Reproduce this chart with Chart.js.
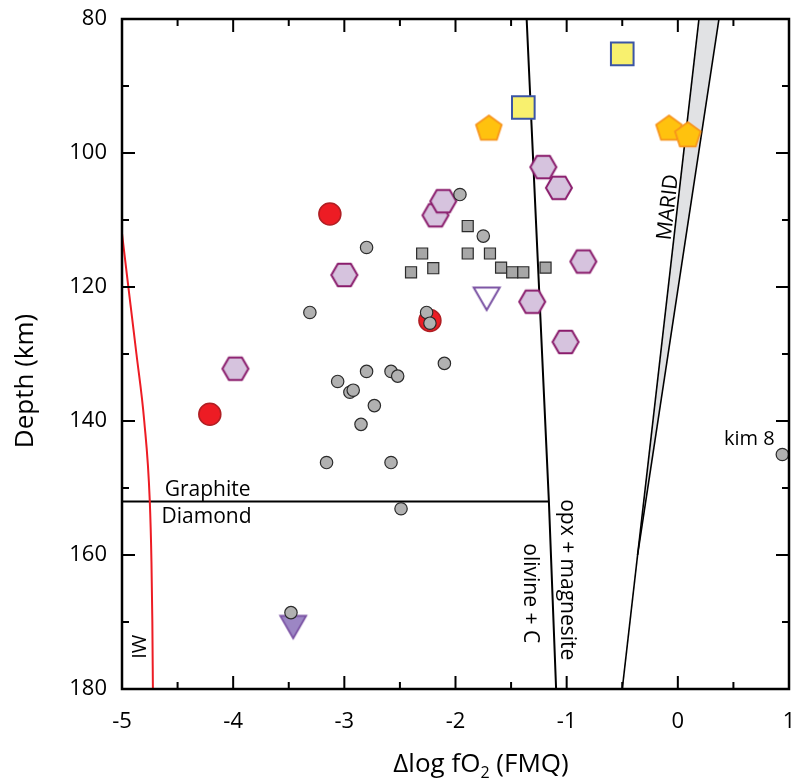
<!DOCTYPE html>
<html>
<head>
<meta charset="utf-8">
<script src="https://cdn.jsdelivr.net/npm/chart.js@4/dist/chart.umd.min.js"></script>
<style>
  html, body { margin: 0; padding: 0; background: #fff; }
  #wrap { width: 794px; height: 782px; }
</style>
</head>
<body>
<div id="wrap"><canvas id="myChart" width="794" height="782"></canvas></div>
<script>
// axis ranges / ticks
const xTicks = [-5, -4, -3, -2, -1, 0, 1];
const yTicks = [80, 100, 120, 140, 160, 180];

// xenolith samples (delta log fO2, depth km)
const grayCircleX = [-2.80, -3.31, -2.26, -2.23, -1.96, -1.75, -3.06, -2.95, -2.92, -2.80, -2.58, -2.52, -2.10, -2.73, -2.85, -3.16, -2.58, -2.49, -3.48, 0.94];
const grayCircleY = [114.1, 123.8, 123.8, 125.4, 106.2, 112.4, 134.1, 135.7, 135.4, 132.6, 132.6, 133.3, 131.4, 137.7, 140.5, 146.2, 146.2, 153.1, 168.6, 145.0];

const graySquareX = [-2.30, -2.40, -2.20, -1.89, -1.89, -1.69, -1.59, -1.49, -1.39, -1.19];
const graySquareY = [115.0, 117.8, 117.2, 110.9, 115.0, 115.0, 117.1, 117.8, 117.8, 117.1];

const redCircleX = [-3.13, -2.23, -4.21];
const redCircleY = [109.1, 125.0, 139.0];

const hexagonX = [-3.00, -2.18, -2.11, -1.21, -1.07, -0.85, -1.31, -1.01, -3.98];
const hexagonY = [118.2, 109.3, 107.2, 102.1, 105.2, 116.2, 122.2, 128.2, 132.2];

const pentagonX = [-1.70, -0.08, 0.09];
const pentagonY = [96.4, 96.4, 97.4];

const yellowSquareX = [-0.50, -1.39];
const yellowSquareY = [85.2, 93.2];

const openTriangleX = [-1.72];
const openTriangleY = [121.2];

const filledTriangleX = [-3.46];
const filledTriangleY = [170.2];

// reference curves
const iwX = [-5.0, -4.95, -4.91, -4.87, -4.80, -4.75, -4.735, -4.727, -4.722];
const iwY = [112, 119, 124.5, 130, 140, 152, 161, 170, 180];

const emodX = [-1.36, -1.16, -1.095];
const emodY = [80, 152, 180];

const gdX = [-5, -1.16];
const gdY = [152, 152];

const maridLeftX = [0.19, -0.50];
const maridLeftY = [80, 180];
const maridRightX = [0.37, -0.362];
const maridRightY = [80, 160];

const pts = (xs, ys) => xs.map((x, i) => ({ x: x, y: ys[i] }));

// polygon marker drawn to a small canvas
function polyMarker(sides, r, startDeg, fill, stroke, lw) {
  const s = Math.ceil(2 * r + 2 * lw + 2);
  const c = document.createElement('canvas');
  c.width = s; c.height = s;
  const ctx = c.getContext('2d');
  ctx.beginPath();
  for (let i = 0; i < sides; i++) {
    const a = (startDeg + i * 360 / sides) * Math.PI / 180;
    const px = s / 2 + r * Math.cos(a), py = s / 2 + r * Math.sin(a);
    if (i === 0) ctx.moveTo(px, py); else ctx.lineTo(px, py);
  }
  ctx.closePath();
  if (fill) { ctx.fillStyle = fill; ctx.fill(); }
  ctx.lineWidth = lw; ctx.strokeStyle = stroke; ctx.lineJoin = 'miter';
  ctx.stroke();
  return c;
}

const hexImg = polyMarker(6, 13, 0, '#d6c3de', '#8a1c6c', 2);
const pentImg = polyMarker(5, 13.5, -90, '#ffc20e', '#f7941d', 1.8);
const openTriImg = polyMarker(3, 15, 90, null, '#7a52a3', 2);
const fillTriImg = polyMarker(3, 15, 90, '#9c86c4', '#7a52a3', 1.8);

const lineDs = (data, color, width, order) => ({
  data: data, showLine: true, borderColor: color, borderWidth: width,
  pointRadius: 0, fill: false, tension: 0, order: order
});

const iwLine = lineDs(pts(iwX, iwY), '#ed1c24', 2, 10);
iwLine.tension = 0.4;
iwLine.cubicInterpolationMode = 'monotone';

const band = {
  data: pts([maridLeftX[0], maridRightX[1], maridRightX[0]], [maridLeftY[0], maridRightY[1], maridRightY[0]]),
  showLine: true, borderWidth: 0, borderColor: 'rgba(0,0,0,0)', backgroundColor: '#e1e2e4',
  fill: 'shape', pointRadius: 0, order: 12
};

const datasets = [
  { data: pts(grayCircleX, grayCircleY), pointStyle: 'circle', pointRadius: 6.2, backgroundColor: '#b1b1b1', borderColor: '#2b2b2b', borderWidth: 1.2, order: 1 },
  { data: pts(graySquareX, graySquareY), pointStyle: 'rect', pointRadius: 7.8, backgroundColor: '#a7a7a7', borderColor: '#2b2b2b', borderWidth: 1.2, order: 2 },
  { data: pts(redCircleX, redCircleY), pointStyle: 'circle', pointRadius: 11, backgroundColor: '#ed1c24', borderColor: '#b01f24', borderWidth: 1.5, order: 3 },
  { data: pts(hexagonX, hexagonY), pointStyle: hexImg, order: 4 },
  { data: pts(pentagonX, pentagonY), pointStyle: pentImg, order: 5 },
  { data: pts(yellowSquareX, yellowSquareY), pointStyle: 'rect', pointRadius: 16, backgroundColor: '#f8f06e', borderColor: '#3b55a5', borderWidth: 2, order: 6 },
  { data: pts(openTriangleX, openTriangleY), pointStyle: openTriImg, order: 7 },
  { data: pts(filledTriangleX, filledTriangleY), pointStyle: fillTriImg, order: 8 },
  iwLine,
  lineDs(pts(emodX, emodY), '#000', 2, 10),
  lineDs(pts(gdX, gdY), '#000', 2, 10),
  lineDs(pts(maridLeftX, maridLeftY), '#000', 1.6, 11),
  lineDs(pts(maridRightX, maridRightY), '#000', 1.6, 11),
  band
];

const FONT = '"Open Sans", "DejaVu Sans", sans-serif';

// frame, inward ticks on all sides, labels in the plot
const decorPlugin = {
  id: 'decor',
  afterDatasetsDraw(chart) {
    const ctx = chart.ctx;
    const a = chart.chartArea;
    const xs = chart.scales.x, ys = chart.scales.y;
    ctx.save();
    ctx.strokeStyle = '#000';
    ctx.lineWidth = 2;
    for (let v = -5; v <= 1.001; v += 0.5) {
      const px = xs.getPixelForValue(v);
      const len = Math.abs(v - Math.round(v)) < 0.01 ? 13 : 7;
      ctx.beginPath();
      ctx.moveTo(px, a.bottom); ctx.lineTo(px, a.bottom - len);
      ctx.moveTo(px, a.top); ctx.lineTo(px, a.top + len);
      ctx.stroke();
    }
    for (let v = 80; v <= 180; v += 10) {
      const py = ys.getPixelForValue(v);
      const len = v % 20 === 0 ? 13 : 7;
      ctx.beginPath();
      ctx.moveTo(a.left, py); ctx.lineTo(a.left + len, py);
      ctx.moveTo(a.right, py); ctx.lineTo(a.right - len, py);
      ctx.stroke();
    }
    ctx.lineWidth = 2.5;
    ctx.strokeRect(a.left, a.top, a.right - a.left, a.bottom - a.top);

    ctx.fillStyle = '#000';
    const txt = (s, x, y, rot, size, align, base) => {
      ctx.save();
      ctx.translate(xs.getPixelForValue(x), ys.getPixelForValue(y));
      ctx.rotate(rot * Math.PI / 180);
      ctx.font = size + 'px ' + FONT;
      ctx.textAlign = align || 'center';
      ctx.textBaseline = base || 'middle';
      ctx.fillText(s, 0, 0);
      ctx.restore();
    };
    txt('Graphite', -4.23, 151.2, 0, 21, 'center', 'alphabetic');
    txt('Diamond', -4.24, 155.2, 0, 21, 'center', 'alphabetic');
    txt('kim 8', 0.643, 143.6, 0, 20, 'center', 'alphabetic');
    txt('opx + magnesite', -0.993, 163.7, 90, 21, 'center', 'middle');
    txt('olivine + C', -1.334, 165.7, 90, 21, 'center', 'middle');
    txt('MARID', -0.085, 108.1, -83.5, 21, 'center', 'middle');
    txt('IW', -4.832, 173.7, -90, 20, 'center', 'middle');

    // axis titles
    ctx.textBaseline = 'alphabetic';
    ctx.textAlign = 'left';
    const t1 = '\u0394log fO', t2 = '2', t3 = ' (FMQ)';
    ctx.font = '26px ' + FONT; const w1 = ctx.measureText(t1).width, w3 = ctx.measureText(t3).width;
    ctx.font = '16px ' + FONT; const w2 = ctx.measureText(t2).width;
    const x0 = 481 - (w1 + w2 + w3) / 2;
    ctx.font = '26px ' + FONT; ctx.fillText(t1, x0, 772);
    ctx.font = '16px ' + FONT; ctx.fillText(t2, x0 + w1, 778);
    ctx.font = '26px ' + FONT; ctx.fillText(t3, x0 + w1 + w2, 772);

    ctx.save();
    ctx.translate(33, 381);
    ctx.rotate(-Math.PI / 2);
    ctx.textAlign = 'center';
    ctx.fillText('Depth (km)', 0, 0);
    ctx.restore();
    ctx.restore();
  }
};

new Chart(document.getElementById('myChart'), {
  type: 'scatter',
  data: { datasets: datasets },
  options: {
    responsive: false,
    animation: false,
    layout: { autoPadding: false, padding: { top: 19, right: 5, left: 0, bottom: 0 } },
    plugins: { legend: { display: false }, tooltip: { enabled: false } },
    scales: {
      x: {
        type: 'linear', min: -5, max: 1,
        grid: { display: false, drawTicks: false },
        border: { display: false },
        ticks: {
          stepSize: 0.5, padding: 20, color: '#000',
          font: { family: FONT, size: 22 },
          callback: v => (xTicks.includes(v) ? String(v) : '')
        },
        afterFit: s => { s.height = 93; s.paddingLeft = 0; s.paddingRight = 0; }
      },
      y: {
        type: 'linear', min: 80, max: 180, reverse: true,
        grid: { display: false, drawTicks: false },
        border: { display: false },
        ticks: {
          stepSize: 10, padding: 15, color: '#000',
          font: { family: FONT, size: 22 },
          callback: v => (yTicks.includes(v) ? String(v) : '')
        },
        afterFit: s => { s.width = 122; s.paddingTop = 0; s.paddingBottom = 0; }
      }
    }
  },
  plugins: [decorPlugin]
});
</script>
</body>
</html>
